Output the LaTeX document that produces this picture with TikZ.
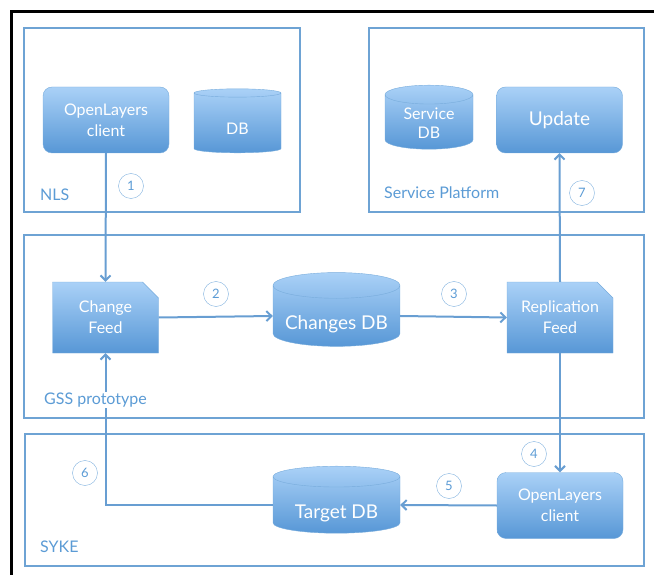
\documentclass[tikz,border=0pt]{standalone}
\usepackage{fontspec}
\setmainfont{Lato}
\usetikzlibrary{shapes.geometric,shapes.misc,arrows.meta}
\definecolor{bleucadre}{HTML}{6EA3D4}
\definecolor{bleubord}{HTML}{78ACDC}
\definecolor{bleuhaut}{HTML}{AAD1F7}
\definecolor{bleubas}{HTML}{5797D6}
\definecolor{bleutexte}{HTML}{5B9BD5}
\definecolor{bleupastille}{HTML}{7FB0DE}
\definecolor{bleufleche}{HTML}{689ED2}

\begin{document}
\begin{tikzpicture}[x=1pt,y=-1pt]
\tikzset{zone/.style={draw=bleucadre, line width=2pt}}
\tikzset{boite/.style={draw=bleubord, rounded corners=9pt, top color=bleuhaut, bottom color=bleubas, text=white, align=center, minimum width=126pt, minimum height=66pt, font=\fontsize{16}{21}\selectfont}}
\tikzset{feuille/.style={draw=bleubord, chamfered rectangle, chamfered rectangle corners=north east, chamfered rectangle sep=8pt, top color=bleuhaut, bottom color=bleubas, text=white, align=center, minimum width=106pt, minimum height=71pt, inner sep=0pt, font=\fontsize{16}{21}\selectfont}}
\tikzset{cylindre/.style={draw=bleubord, cylinder, shape border rotate=90, aspect=0.25, top color=bleuhaut, bottom color=bleubas, text=white, align=center, inner sep=0pt, text depth=4pt, font=\fontsize{16}{19}\selectfont}}
\tikzset{pastille/.style={draw=bleupastille, circle, minimum size=25pt, inner sep=0pt, text=bleutexte, font=\fontsize{13}{13}\selectfont}}
\tikzset{etiquette/.style={anchor=west, inner sep=1pt, text=bleutexte, font=\fontsize{16}{16}\selectfont}}
\tikzset{fleche/.style={draw=bleufleche, line width=2pt, -{Straight Barb[length=5pt,width=10pt]}}}
\clip (0,0) rectangle (654,575);
\draw[line width=3pt] (11.5,11.5) rectangle (700,700);
\draw[zone] (24,28) rectangle (300,212);
\draw[zone] (369,28) rectangle (644,212);
\draw[zone] (24,235) rectangle (644,418);
\draw[zone] (25,434) rectangle (644,566);
% NLS
\node[boite] (olnls) at (106,120) {OpenLayers\\client};
\node[cylindre, aspect=0.37, text height=27.5pt, minimum width=87pt, minimum height=64pt] (dbnls) at (237.5,123) {DB};
\node[etiquette] (nls) at (39,195) {NLS};
% Service Platform
\node[cylindre, aspect=0.37, text height=34pt, text depth=0pt, minimum width=88pt, minimum height=64pt] (servicedb) at (429,122) {Service\\DB};
\node[boite, font=\fontsize{19}{21}\selectfont] (update) at (559.5,120) {Update};
\node[etiquette] (platform) at (383,193) {Service Platform};
% GSS prototype
\node[feuille] (changefeed) at (105.5,317.5) {Change\\Feed};
\node[cylindre, text height=31pt, minimum width=127pt, minimum height=70pt, font=\fontsize{19}{21}\selectfont] (changesdb) at (336.5,316) {Changes DB};
\node[feuille] (replfeed) at (560,317.5) {Replication\\Feed};
% SYKE
\node[cylindre, text height=31pt, minimum width=127pt, minimum height=67pt, font=\fontsize{19}{21}\selectfont] (targetdb) at (336.5,505) {Target DB};
\node[boite] (olsyke) at (560,505.5) {OpenLayers\\client};
\node[etiquette] (syke) at (39,547) {SYKE};
% fleches
\draw[fleche] (olnls.south) -- (changefeed.north);
\draw[fleche] (changefeed.east) -- (changesdb.west);
\draw[fleche] (changesdb.east) -- (replfeed.west);
\draw[fleche] (replfeed.north) -- (update.south);
\draw[fleche] (replfeed.south) -- (olsyke.north);
\draw[fleche] (olsyke.west) -- (targetdb.east);
\draw[fleche] (targetdb.west) -| (changefeed.south);
\node[etiquette, fill=white] (gss) at (43,400) {GSS prototype};
% pastilles
\node[pastille] (p1) at (131,186) {1};
\node[pastille] (p2) at (216,294) {2};
\node[pastille] (p3) at (454,294) {3};
\node[pastille] (p4) at (534,454) {4};
\node[pastille] (p5) at (449,486) {5};
\node[pastille] (p6) at (85,473) {6};
\node[pastille] (p7) at (582,193) {7};
\end{tikzpicture}
\end{document}
